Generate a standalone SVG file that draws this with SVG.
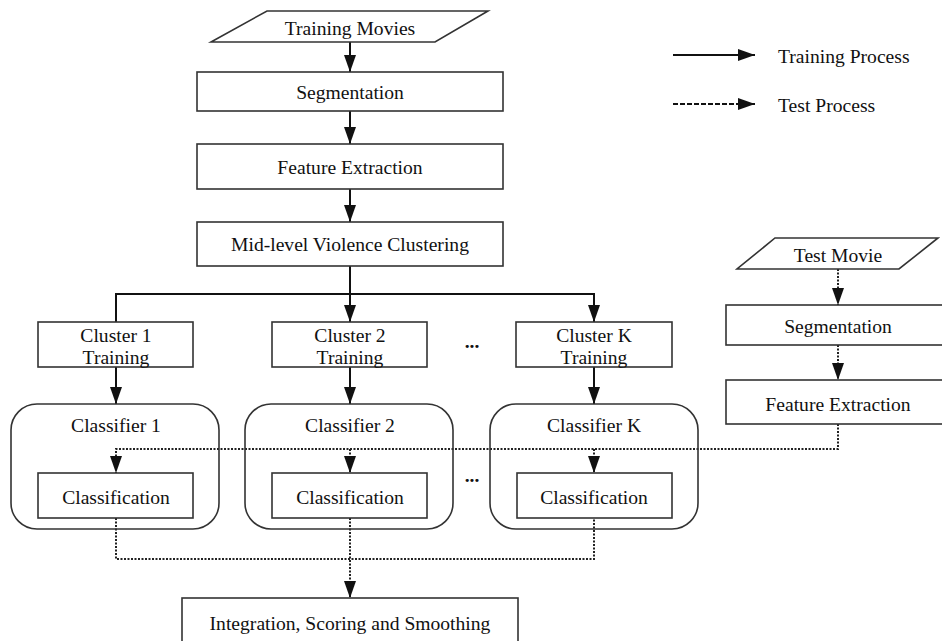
<svg xmlns="http://www.w3.org/2000/svg" width="942" height="641" viewBox="0 0 942 641">
<style>
.box{fill:#fff;stroke:#333;stroke-width:1.6}
.rbox{fill:none;stroke:#333;stroke-width:1.6}
.t{font-family:"Liberation Serif","Times New Roman",serif;font-size:19.6px;fill:#111;text-anchor:middle}
.lt{font-family:"Liberation Serif","Times New Roman",serif;font-size:19.6px;fill:#111}
.dots{font-family:"Liberation Serif","Times New Roman",serif;font-size:19.6px;font-weight:bold;fill:#111;text-anchor:middle}
.solid{fill:none;stroke:#111;stroke-width:2}
.dot{fill:none;stroke:#222;stroke-width:2;stroke-dasharray:2 1.5}
.dash{fill:none;stroke:#111;stroke-width:2;stroke-dasharray:5 2}
</style>
<defs>
<marker id="ah" markerWidth="17" markerHeight="12" refX="17" refY="6" viewBox="0 0 17 12" markerUnits="userSpaceOnUse" orient="auto">
<path d="M0,0 L17,6 L0,12 Z" fill="#111"/>
</marker>
</defs>
<rect width="942" height="641" fill="#fff"/>

<g id="connectors">
<line class="solid" x1="350" y1="42" x2="350" y2="72" marker-end="url(#ah)"/>
<line class="solid" x1="350" y1="111" x2="350" y2="144" marker-end="url(#ah)"/>
<line class="solid" x1="350" y1="189" x2="350" y2="222" marker-end="url(#ah)"/>
<line class="solid" x1="350" y1="266" x2="350" y2="322" marker-end="url(#ah)"/>
<polyline class="solid" points="116,322 116,294 594,294 594,322" marker-start="url(#ah)" marker-end="url(#ah)"/>
<line class="solid" x1="116" y1="367" x2="116" y2="404" marker-end="url(#ah)"/>
<line class="solid" x1="350" y1="367" x2="350" y2="404" marker-end="url(#ah)"/>
<line class="solid" x1="594" y1="367" x2="594" y2="404" marker-end="url(#ah)"/>
<line class="dot" x1="838" y1="269" x2="838" y2="305" marker-end="url(#ah)"/>
<line class="dot" x1="838" y1="345" x2="838" y2="380" marker-end="url(#ah)"/>
<polyline class="dot" points="838,424 838,449 116,449 116,473" marker-end="url(#ah)"/>
<line class="dot" x1="350" y1="449" x2="350" y2="473" marker-end="url(#ah)"/>
<line class="dot" x1="594" y1="449" x2="594" y2="473" marker-end="url(#ah)"/>
<polyline class="dot" points="116,518 116,559 594,559 594,518"/>
<line class="dot" x1="350" y1="518" x2="350" y2="598" marker-end="url(#ah)"/>
<line class="solid" x1="673" y1="55" x2="755" y2="55" marker-end="url(#ah)"/>
<line class="dash" x1="673" y1="104" x2="755" y2="104" marker-end="url(#ah)"/>
</g>

<g id="training-movies">
<polygon class="box" points="267,11 488,11 435,42 211,42"/>
<text class="t" x="350" y="35">Training Movies</text>
</g>
<g id="segmentation">
<rect class="box" x="197" y="72" width="306" height="39"/>
<text class="t" x="350" y="99">Segmentation</text>
</g>
<g id="feature-extraction">
<rect class="box" x="197" y="144" width="306" height="45"/>
<text class="t" x="350" y="174">Feature Extraction</text>
</g>
<g id="clustering">
<rect class="box" x="197" y="222" width="306" height="44"/>
<text class="t" x="350" y="251">Mid-level Violence Clustering</text>
</g>

<g id="cluster1">
<rect class="box" x="38" y="322" width="155" height="45"/>
<text class="t" x="116" y="342">Cluster 1</text>
<text class="t" x="116" y="364">Training</text>
</g>
<g id="cluster2">
<rect class="box" x="272" y="322" width="155" height="45"/>
<text class="t" x="350" y="342">Cluster 2</text>
<text class="t" x="350" y="364">Training</text>
</g>
<g id="clusterK">
<rect class="box" x="516" y="322" width="156" height="45"/>
<text class="t" x="594" y="342">Cluster K</text>
<text class="t" x="594" y="364">Training</text>
</g>
<text class="dots" x="472" y="348">...</text>
<text class="dots" x="472" y="482">...</text>

<g id="classifier1">
<rect class="rbox" x="11" y="404" width="208" height="125" rx="26"/>
<text class="t" x="116" y="432">Classifier 1</text>
<rect class="box" x="38" y="473" width="155" height="45"/>
<text class="t" x="116" y="504">Classification</text>
</g>
<g id="classifier2">
<rect class="rbox" x="245" y="404" width="208" height="125" rx="26"/>
<text class="t" x="350" y="432">Classifier 2</text>
<rect class="box" x="272" y="473" width="155" height="45"/>
<text class="t" x="350" y="504">Classification</text>
</g>
<g id="classifierK">
<rect class="rbox" x="490" y="404" width="208" height="125" rx="26"/>
<text class="t" x="594" y="432">Classifier K</text>
<rect class="box" x="517" y="473" width="155" height="45"/>
<text class="t" x="594" y="504">Classification</text>
</g>

<g id="test-movie">
<polygon class="box" points="775,238 938,238 899,269 737,269"/>
<text class="t" x="838" y="262">Test Movie</text>
</g>
<g id="test-segmentation">
<rect class="box" x="726" y="305" width="224" height="40"/>
<text class="t" x="838" y="333">Segmentation</text>
</g>
<g id="test-feature-extraction">
<rect class="box" x="726" y="380" width="224" height="44"/>
<text class="t" x="838" y="411">Feature Extraction</text>
</g>

<g id="integration">
<rect class="box" x="182" y="598" width="336" height="50"/>
<text class="t" x="350" y="630">Integration, Scoring and Smoothing</text>
</g>

<g id="legend">
<text class="lt" x="778" y="63">Training Process</text>
<text class="lt" x="778" y="112">Test Process</text>
</g>
</svg>
